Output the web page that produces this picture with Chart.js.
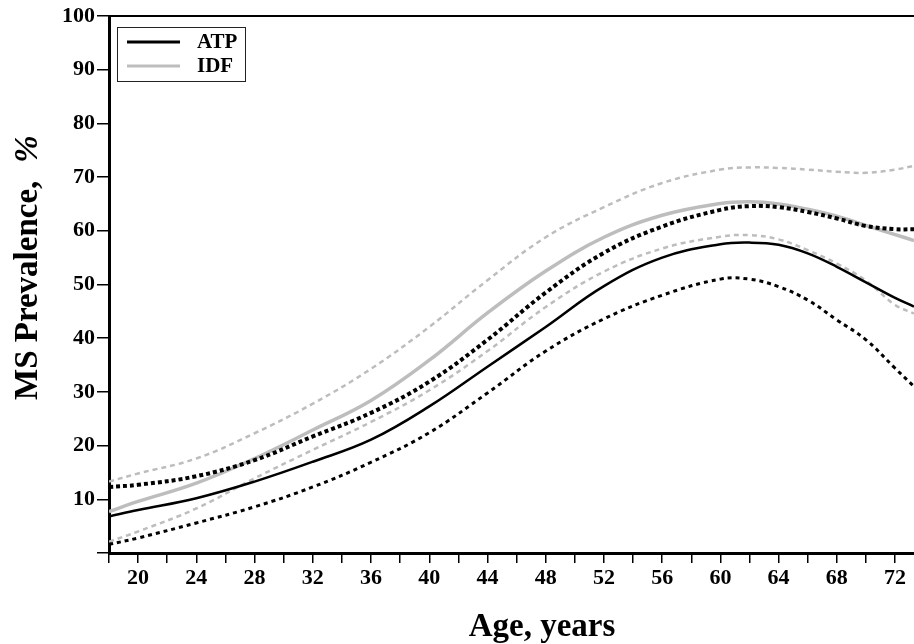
<!DOCTYPE html>
<html><head><meta charset="utf-8">
<script src="https://cdn.jsdelivr.net/npm/chart.js@4"></script>
<style>html,body{margin:0;padding:0;background:#fff}#wrap{width:914px;height:644px}</style>
</head><body><div id="wrap"><canvas id="c" width="914" height="644"></canvas></div>
<script>
// ---- data ----
const ages      = [18, 20, 24, 28, 32, 36, 40, 44, 48, 52, 56, 60, 62, 64, 66, 68, 70, 72, 73.3];
const atp       = [6.8, 8.0, 10.2, 13.3, 17.0, 21.1, 27.3, 34.7, 42.1, 49.7, 55.0, 57.5, 57.8, 57.4, 55.8, 53.3, 50.4, 47.5, 45.9];
const atpLower  = [1.6, 2.8, 5.6, 8.6, 12.3, 16.9, 22.4, 29.8, 37.6, 43.6, 48.0, 51.0, 51.0, 49.6, 47.1, 43.4, 39.7, 34.4, 31.0];
const atpUpper  = [12.3, 12.7, 14.3, 17.3, 21.7, 26.1, 31.9, 39.7, 48.5, 55.9, 60.8, 63.9, 64.6, 64.4, 63.5, 62.3, 60.9, 60.3, 60.3];
const idf       = [7.7, 9.6, 13.0, 17.6, 22.9, 28.4, 35.9, 44.7, 52.5, 58.8, 62.9, 65.1, 65.4, 65.0, 64.0, 62.7, 61.0, 59.3, 58.2];
const idfUpper  = [13.3, 14.8, 17.6, 22.3, 27.8, 34.3, 42.1, 50.8, 58.8, 64.4, 68.9, 71.4, 71.8, 71.7, 71.4, 71.0, 70.8, 71.4, 72.1];
const idfLower  = [2.1, 4.0, 8.3, 13.9, 19.2, 24.4, 30.3, 37.6, 45.8, 52.4, 56.7, 58.9, 59.2, 58.4, 56.4, 53.9, 50.7, 46.2, 44.6];
const xTickValues = [18,20,22,24,26,28,30,32,34,36,38,40,42,44,46,48,50,52,54,56,58,60,62,64,66,68,70,72];
const yTickValues = [0,10,20,30,40,50,60,70,80,90,100];
const legendLabels = ['ATP', 'IDF'];
const xTitle = 'Age, years';
const yTitleMain = 'MS Prevalence,';
const yTitleUnit = '%';

const BLACK = '#000000';
const GRAY = '#bdbdbd';
const FONT = '"Liberation Serif", "Times New Roman", serif';

function pts(arr){ return ages.map((a,i)=>({x:a, y:arr[i]})); }

const base = {pointRadius:0, fill:false, tension:0.4, borderCapStyle:'butt'};

const datasets = [
  Object.assign({label:'ATP', data:pts(atp), borderColor:BLACK, borderWidth:2.5}, base),
  Object.assign({label:'ATP upper', data:pts(atpUpper), borderColor:BLACK, borderWidth:4, borderDash:[4,3]}, base),
  Object.assign({label:'ATP lower', data:pts(atpLower), borderColor:BLACK, borderWidth:3, borderDash:[4,4]}, base),
  Object.assign({label:'IDF', data:pts(idf), borderColor:GRAY, borderWidth:3.5}, base),
  Object.assign({label:'IDF upper', data:pts(idfUpper), borderColor:GRAY, borderWidth:2.5, borderDash:[5,4]}, base),
  Object.assign({label:'IDF lower', data:pts(idfLower), borderColor:GRAY, borderWidth:2.5, borderDash:[5,4]}, base),
];

const decor = {
  id:'decor',
  afterDraw(chart){
    const ctx = chart.ctx, ca = chart.chartArea;
    ctx.save();
    // top frame line
    ctx.strokeStyle = BLACK; ctx.lineWidth = 2;
    ctx.beginPath(); ctx.moveTo(ca.left, ca.top); ctx.lineTo(ca.right, ca.top); ctx.stroke();
    // legend
    ctx.lineWidth = 1; ctx.strokeStyle = '#222';
    ctx.strokeRect(117.5, 27.5, 128, 54);
    const rows = [{c:BLACK, y:42}, {c:GRAY, y:66}];
    ctx.font = 'bold 21px ' + FONT; ctx.fillStyle = BLACK; ctx.textAlign='left'; ctx.textBaseline='alphabetic';
    rows.forEach((r,i)=>{
      ctx.strokeStyle = r.c; ctx.lineWidth = 3;
      ctx.beginPath(); ctx.moveTo(127, r.y); ctx.lineTo(180, r.y); ctx.stroke();
      ctx.fillText(legendLabels[i], 197, r.y + 6);
    });
    // x title
    ctx.font = 'bold 33px ' + FONT;
    ctx.textAlign = 'center';
    ctx.fillText(xTitle, 542, 636);
    // y title
    ctx.translate(37, 400); ctx.rotate(-Math.PI/2);
    ctx.textAlign = 'left';
    ctx.fillText(yTitleMain, 0, 0);
    const w = ctx.measureText(yTitleMain).width;
    ctx.font = 'italic bold 33px ' + FONT;
    ctx.fillText(yTitleUnit, w + 18, 0);
    ctx.restore();
  }
};

new Chart(document.getElementById('c'), {
  type:'line',
  data:{datasets},
  options:{
    responsive:false, animation:false, devicePixelRatio:1,
    layout:{padding:{top:16, left:0, right:0, bottom:0}},
    plugins:{legend:{display:false}, tooltip:{enabled:false}},
    scales:{
      x:{
        type:'linear', min:18, max:73.3,
        afterBuildTicks:s=>{ s.ticks = xTickValues.map(v=>({value:v})); },
        afterFit:s=>{ s.height = 91; },
        ticks:{autoSkip:false, maxRotation:0, padding:2, color:BLACK,
          font:{family:FONT, size:22, weight:'bold'},
          callback:v=> (v % 4 === 0) ? String(v) : ''},
        grid:{drawOnChartArea:false, drawTicks:true, tickLength:10, color:BLACK, lineWidth:1.5},
        border:{display:true, color:BLACK, width:3}
      },
      y:{
        type:'linear', min:0, max:100,
        afterBuildTicks:s=>{ s.ticks = yTickValues.map(v=>({value:v})); },
        afterFit:s=>{ s.width = 109; },
        ticks:{padding:2, color:BLACK, font:{family:FONT, size:22, weight:'bold'},
          callback:v=> v === 0 ? '' : String(v)},
        grid:{drawOnChartArea:false, drawTicks:true, tickLength:12, color:BLACK, lineWidth:1.5},
        border:{display:true, color:BLACK, width:3}
      }
    }
  },
  plugins:[decor]
});
</script></body></html>
